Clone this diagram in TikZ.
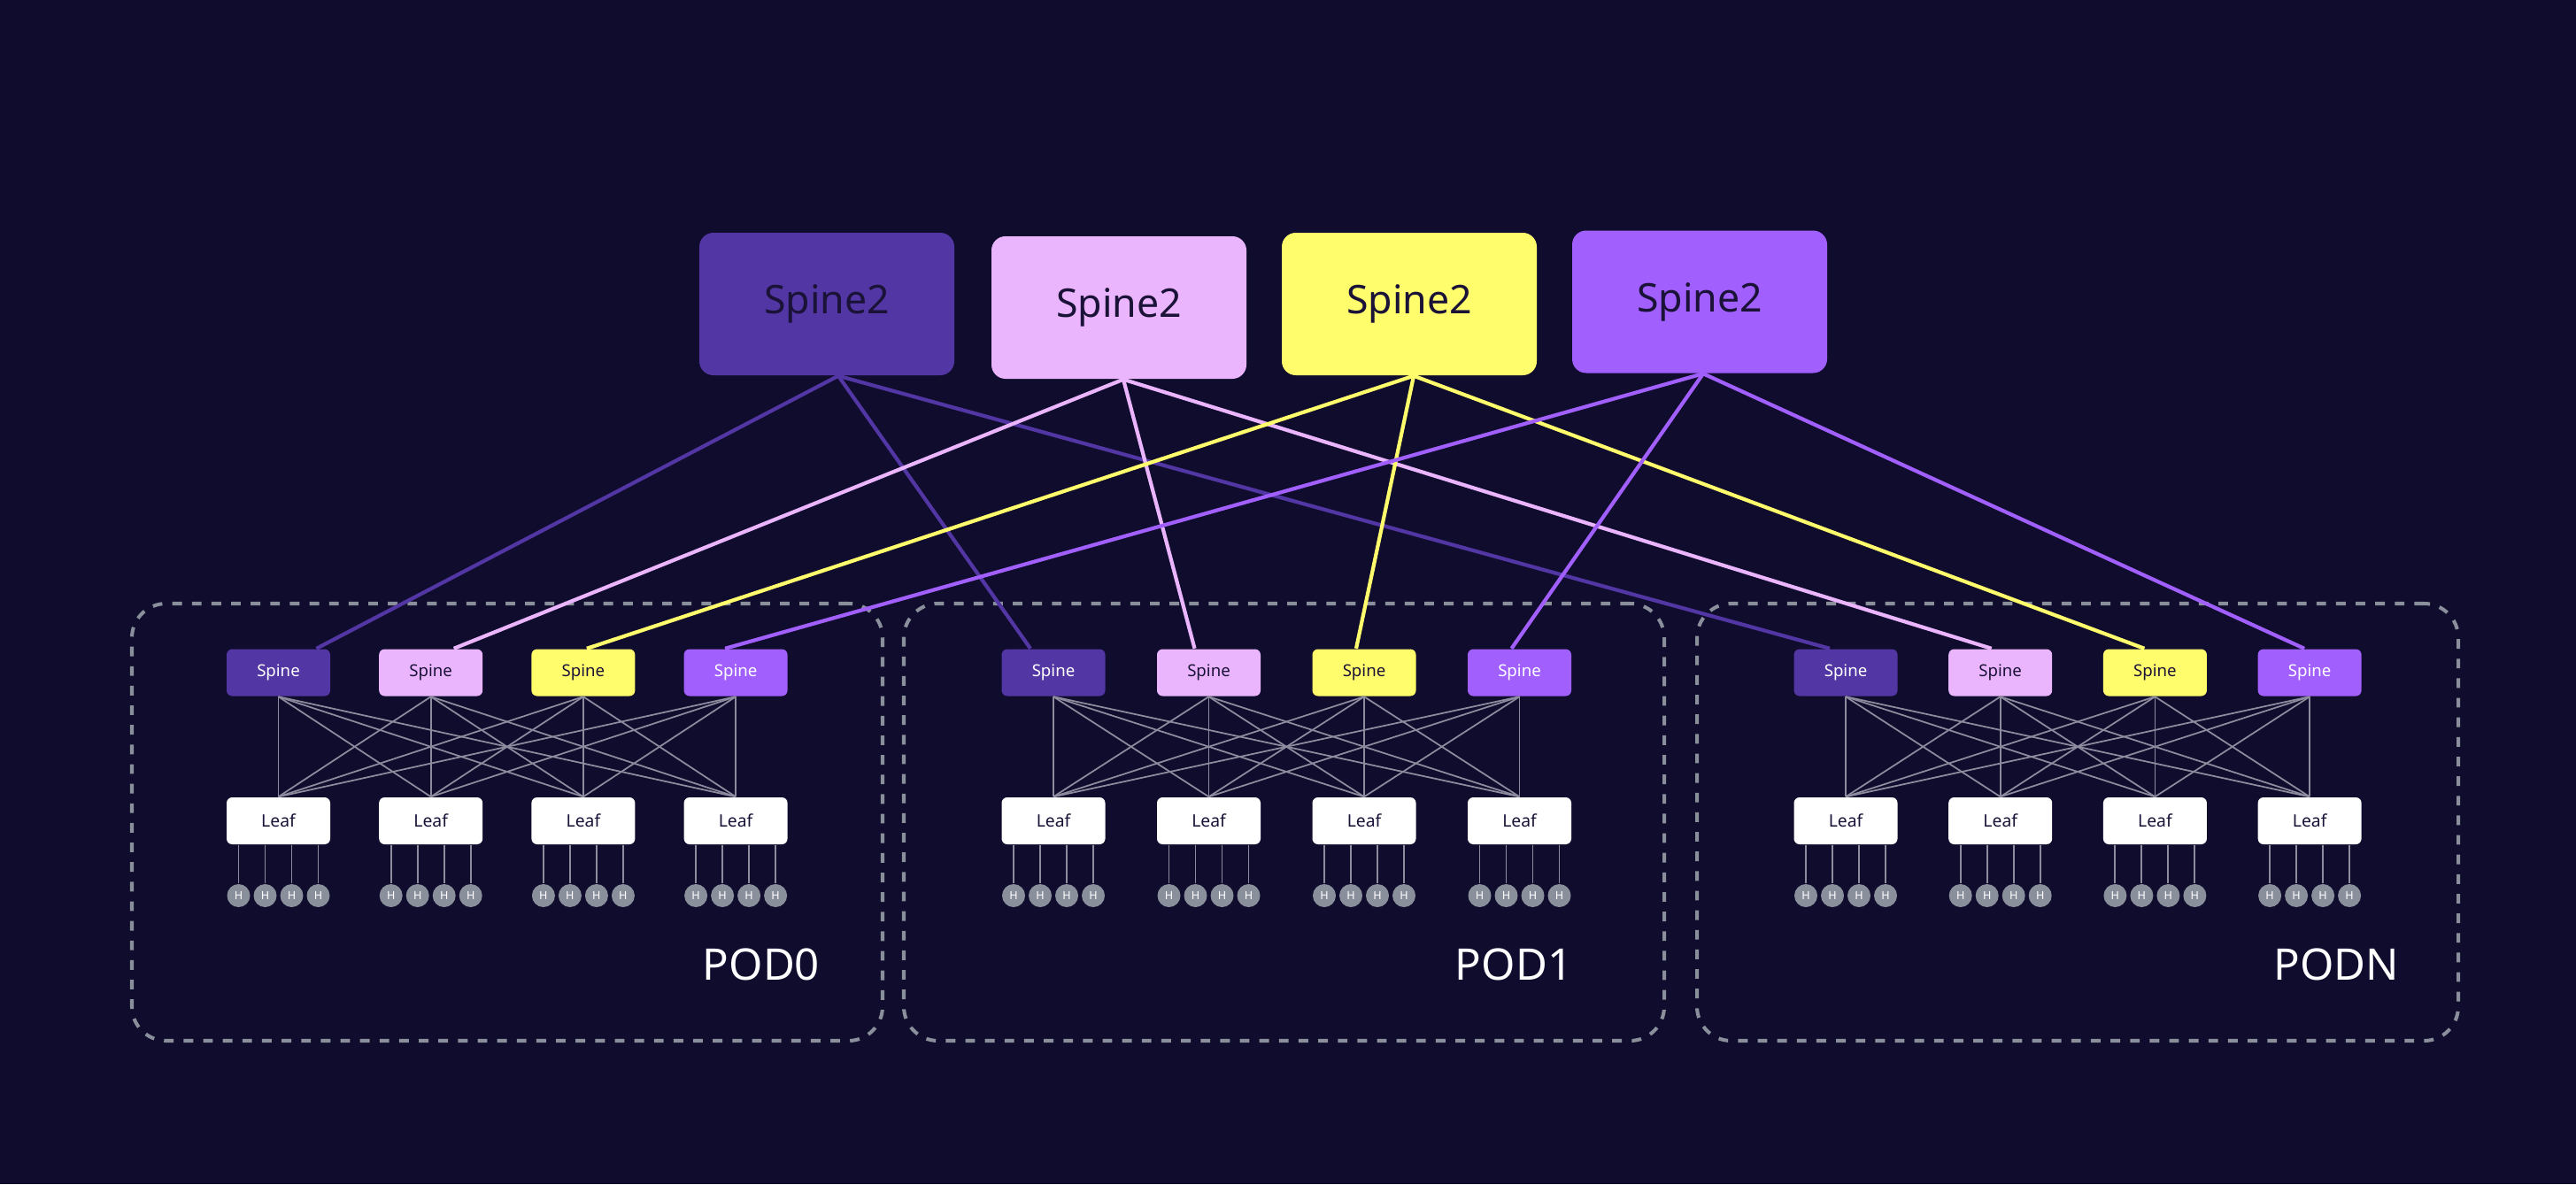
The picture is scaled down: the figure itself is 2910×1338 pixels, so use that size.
\documentclass[tikz,border=0pt]{standalone}
\usepackage{fontspec}
\setmainfont{Noto Sans}
\definecolor{bg}{HTML}{100C2D}
\definecolor{ca}{HTML}{5236A4}
\definecolor{cb}{HTML}{EAB5FC}
\definecolor{cc}{HTML}{FFFD6B}
\definecolor{cd}{HTML}{A15FFE}
\definecolor{ink}{HTML}{1B1238}
\definecolor{greyc}{HTML}{8A8F9C}
\definecolor{meshc}{HTML}{8C8C9E}
\begin{document}
\begin{tikzpicture}[x=0.1mm,y=-0.1mm,
  bigbox/.style={rectangle, rounded corners=4.5pt, minimum width=28.8mm, minimum height=16.1mm, inner sep=0pt, font=\fontsize{12.7}{14}\selectfont, text=ink},
  spinebox/.style={rectangle, rounded corners=1.8pt, minimum width=11.7mm, minimum height=5.3mm, inner sep=0pt, font=\fontsize{5.3}{6}\selectfont},
  leafbox/.style={spinebox, fill=white, text=ink, font=\fontsize{5.5}{6}\selectfont},
  host/.style={circle, fill=greyc, minimum size=2.6mm, inner sep=0pt, text=white, font=\fontsize{3.6}{4}\selectfont},
  podframe/.style={rectangle, draw=greyc, line width=1.15pt, dash pattern=on 3.1pt off 3.2pt, rounded corners=11pt, inner sep=0pt},
  podlabel/.style={text=white, font=\fontsize{14}{16}\selectfont, inner sep=0pt, anchor=base},
  uplink/.style={line width=1.2pt},
  meshline/.style={draw=meshc, line width=0.5pt},
  hostline/.style={draw=meshc, line width=0.55pt}]
\path[use as bounding box, fill=bg] (0,0) rectangle (2910,1338);
% pod frames
\node[podframe, minimum width=84.8mm, minimum height=49.4mm] (pod0) at (573,929) {};
\node[podframe, minimum width=85.9mm, minimum height=49.4mm] (pod1) at (1450.5,929) {};
\node[podframe, minimum width=86.0mm, minimum height=49.4mm] (podN) at (2347,929) {};
\node[podlabel] (lab0) at (860,1107) {POD\textbf{0}};
\node[podlabel] (lab1) at (1710,1107) {POD\textbf{1}};
\node[podlabel] (labN) at (2639,1107) {PODN};
% top spines
\node[bigbox, fill=ca] (s2a) at (934,343.5) {Spine2};
\node[bigbox, fill=cb] (s2b) at (1264,347.5) {Spine2};
\node[bigbox, fill=cc] (s2c) at (1592,343.5) {Spine2};
\node[bigbox, fill=cd] (s2d) at (1920,341) {Spine2};
% pods
\foreach \p/\base/\st in {0/314.5/172.2, 1/1190/175.5, N/2085/174.7}{
  \foreach \i/\col/\tc in {1/ca/white, 2/cb/ink, 3/cc/ink, 4/cd/white}{
    \pgfmathsetmacro\xx{\base+(\i-1)*\st}
    \node[spinebox, fill=\col, text=\tc] (p\p s\i) at (\xx,760) {Spine};
    \node[leafbox] (p\p l\i) at (\xx,927.5) {Leaf};
    \foreach \k/\dx in {1/-45,2/-15,3/15,4/45}{
      \node[host] (p\p l\i h\k) at (\xx+\dx,1012) {H};
      \draw[hostline] (p\p l\i h\k) -- (p\p l\i h\k |- p\p l\i.south);
    }
  }
  \foreach \i in {1,...,4}{
    \foreach \j in {1,...,4}{
      \draw[meshline] (p\p s\i.south) -- (p\p l\j.north);
    }
  }
}
% uplinks: spine2 -> spine of each pod, ending on the top edge
\foreach \i/\n/\col/\sh/\ea/\eb/\ec in {
    1/a/ca/1.3mm/4.3mm/-2.6mm/-1.8mm,
    2/b/cb/0.5mm/2.6mm/-1.6mm/-1.0mm,
    3/c/cc/0.5mm/0.4mm/-0.9mm/-1.2mm,
    4/d/cd/0.4mm/-1.2mm/-0.9mm/-0.6mm}{
  \draw[uplink, draw=\col] ([xshift=\sh]s2\n.south) -- ([xshift=\ea]p0s\i.north);
  \draw[uplink, draw=\col] ([xshift=\sh]s2\n.south) -- ([xshift=\eb]p1s\i.north);
  \draw[uplink, draw=\col] ([xshift=\sh]s2\n.south) -- ([xshift=\ec]pNs\i.north);
}
\end{tikzpicture}
\end{document}
